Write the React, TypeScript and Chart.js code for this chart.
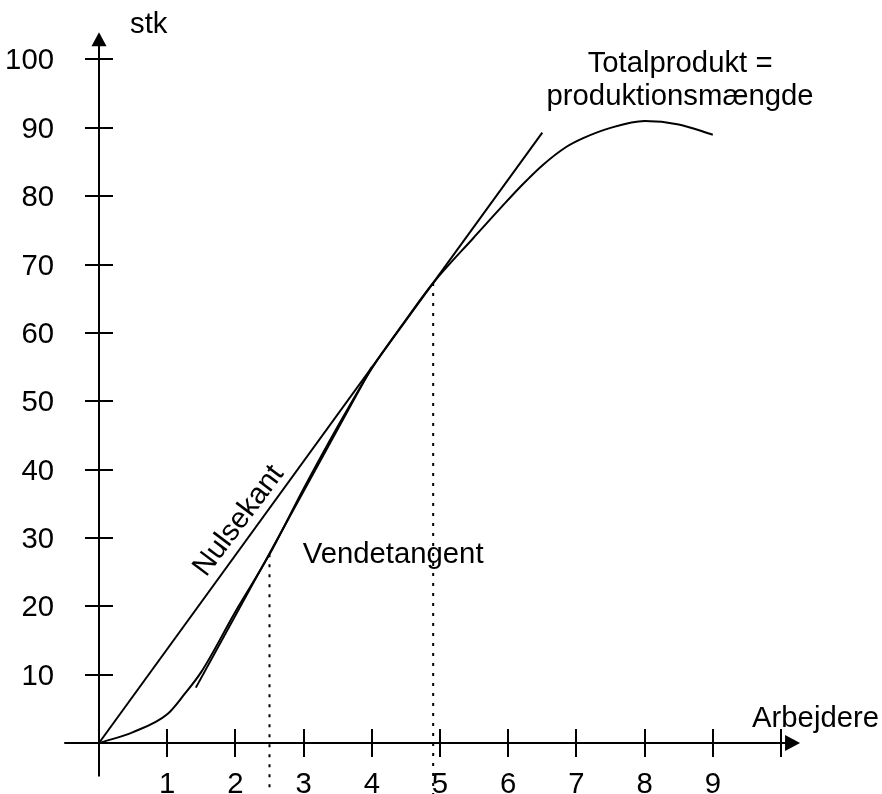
import React, { useEffect, useRef } from "react";
import { Chart, registerables } from "chart.js";

Chart.register(...registerables);

// ---- data ----
const xTickValues = [1, 2, 3, 4, 5, 6, 7, 8, 9, 10];
const xTickLabels = ["1", "2", "3", "4", "5", "6", "7", "8", "9", ""];
const yTickValues = [10, 20, 30, 40, 50, 60, 70, 80, 90, 100];
const yTickLabels = ["10", "20", "30", "40", "50", "60", "70", "80", "90", "100"];

const totalX = [0, 0.5, 1, 1.25, 1.5, 2, 2.5, 3, 3.5, 4, 4.5, 4.9, 5.5, 5.9, 6.2, 6.5, 6.85, 7.1, 7.5, 8, 8.5, 9];
const totalY = [0, 1.6, 4.2, 7.1, 10.4, 19.2, 27.6, 37.2, 46.3, 54.8, 61.9, 67.3, 74.0, 78.4, 81.6, 84.5, 87.2, 88.5, 90.0, 91.0, 90.5, 89.0];

const nulsekantX = [0, 6.5];
const nulsekantY = [0, 89.3];

const vendetangentX = [1.42, 4.0];
const vendetangentY = [8.1, 55];

const dotted1X = [2.5, 2.5];
const dotted1Y = [27.6, -8];
const dotted2X = [4.9, 4.9];
const dotted2Y = [67.3, -8];

const xAxisLabel = "Arbejdere";
const yAxisLabel = "stk";
const curveLabel = ["Totalprodukt =", "produktionsmængde"];
const secantLabel = "Nulsekant";
const tangentLabel = "Vendetangent";

const FONT = '29.3px "Liberation Sans", Arial, Helvetica, sans-serif';

const toPts = (xs: number[], ys: number[]) => xs.map((x, i) => ({ x, y: ys[i] }));

const axesPlugin = {
  id: "customAxes",
  beforeDatasetsDraw(chart: any) {
    const { ctx } = chart;
    const xs = chart.scales.x;
    const ys = chart.scales.y;
    const x0 = xs.getPixelForValue(0);
    const y0 = ys.getPixelForValue(0);
    ctx.save();
    ctx.strokeStyle = "#000";
    ctx.fillStyle = "#000";
    ctx.lineWidth = 2;
    // y axis
    const yTip = ys.getPixelForValue(104);
    ctx.beginPath();
    ctx.moveTo(x0, ys.getPixelForValue(-4.9));
    ctx.lineTo(x0, yTip + 10);
    ctx.stroke();
    ctx.beginPath();
    ctx.moveTo(x0, yTip);
    ctx.lineTo(x0 - 7.5, yTip + 14);
    ctx.lineTo(x0 + 7.5, yTip + 14);
    ctx.closePath();
    ctx.fill();
    // x axis
    const xTip = xs.getPixelForValue(10.28);
    ctx.beginPath();
    ctx.moveTo(xs.getPixelForValue(-0.51), y0);
    ctx.lineTo(xTip - 10, y0);
    ctx.stroke();
    ctx.beginPath();
    ctx.moveTo(xTip, y0);
    ctx.lineTo(xTip - 15, y0 - 8);
    ctx.lineTo(xTip - 15, y0 + 8);
    ctx.closePath();
    ctx.fill();
    // ticks
    ctx.beginPath();
    xTickValues.forEach((v) => {
      const p = Math.round(xs.getPixelForValue(v));
      ctx.moveTo(p, y0 - 14);
      ctx.lineTo(p, y0 + 14);
    });
    yTickValues.forEach((v) => {
      const p = Math.round(ys.getPixelForValue(v));
      ctx.moveTo(x0 - 14, p);
      ctx.lineTo(x0 + 14, p);
    });
    ctx.stroke();
    ctx.restore();
  },
  afterDraw(chart: any) {
    const { ctx } = chart;
    const xs = chart.scales.x;
    const ys = chart.scales.y;
    const x0 = xs.getPixelForValue(0);
    const y0 = ys.getPixelForValue(0);
    ctx.save();
    ctx.fillStyle = "#000";
    ctx.font = FONT;
    ctx.textBaseline = "alphabetic";
    // x tick labels
    ctx.textAlign = "center";
    xTickValues.forEach((v, i) => {
      ctx.fillText(xTickLabels[i], xs.getPixelForValue(v), y0 + 50);
    });
    // y tick labels
    ctx.textAlign = "right";
    yTickValues.forEach((v, i) => {
      ctx.fillText(yTickLabels[i], x0 - 45, ys.getPixelForValue(v) + 10);
    });
    // axis titles
    ctx.textAlign = "left";
    ctx.fillText(yAxisLabel, xs.getPixelForValue(0.455), ys.getPixelForValue(103.9));
    ctx.fillText(xAxisLabel, xs.getPixelForValue(9.575), ys.getPixelForValue(2.34));
    // tangent label
    ctx.fillText(tangentLabel, xs.getPixelForValue(2.987), ys.getPixelForValue(26.3));
    // curve label
    ctx.textAlign = "center";
    ctx.fillText(curveLabel[0], xs.getPixelForValue(8.52), ys.getPixelForValue(98.2));
    ctx.fillText(curveLabel[1], xs.getPixelForValue(8.52), ys.getPixelForValue(93.3));
    // secant label (rotated)
    ctx.translate(xs.getPixelForValue(2.05), ys.getPixelForValue(32.5));
    ctx.rotate((-53 * Math.PI) / 180);
    ctx.textBaseline = "middle";
    ctx.fillText(secantLabel, 0, 0);
    ctx.restore();
  },
};

export default function App() {
  const ref = useRef<HTMLCanvasElement | null>(null);
  useEffect(() => {
    if (!ref.current) return;
    const line = (xs: number[], ys: number[], extra: any = {}) => ({
      data: toPts(xs, ys),
      showLine: true,
      borderColor: "#000",
      borderWidth: 2,
      pointRadius: 0,
      fill: false,
      ...extra,
    });
    const chart = new Chart(ref.current, {
      type: "scatter",
      data: {
        datasets: [
          line(totalX, totalY, { cubicInterpolationMode: "monotone", label: "Totalprodukt" }),
          line(nulsekantX, nulsekantY, { label: "Nulsekant" }),
          line(vendetangentX, vendetangentY, { label: "Vendetangent" }),
          line(dotted1X, dotted1Y, { borderDash: [3, 7], borderWidth: 2, label: "d1" }),
          line(dotted2X, dotted2Y, { borderDash: [3, 7], borderWidth: 2, label: "d2" }),
        ],
      },
      options: {
        animation: false,
        responsive: false,
        devicePixelRatio: 1,
        layout: { padding: 0 },
        plugins: { legend: { display: false }, tooltip: { enabled: false } },
        scales: {
          x: { type: "linear", min: -1.4516, max: 11.481, display: false },
          y: { type: "linear", min: -7.462, max: 108.705, display: false },
        },
      },
      plugins: [axesPlugin],
    });
    return () => chart.destroy();
  }, []);
  return (
    <div style={{ position: "fixed", left: 0, top: 0, width: 882, height: 794, background: "#fff" }}>
      <canvas ref={ref} width={882} height={794} style={{ display: "block" }} />
    </div>
  );
}
